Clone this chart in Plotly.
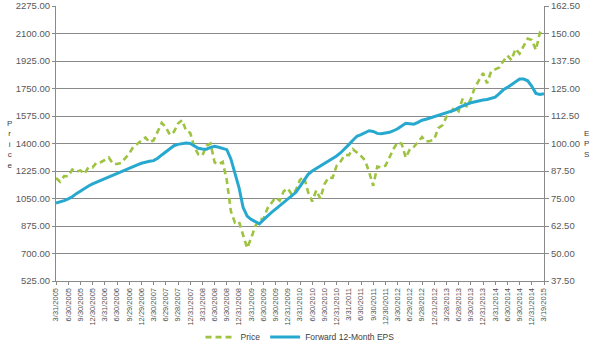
import plotly.graph_objects as go

# Tick labels (quarterly, plus final date)
x_tick_labels = [
    "3/31/2005", "6/30/2005", "9/30/2005", "12/30/2005",
    "3/31/2006", "6/30/2006", "9/29/2006", "12/29/2006",
    "3/30/2007", "6/29/2007", "9/28/2007", "12/31/2007",
    "3/31/2008", "6/30/2008", "9/30/2008", "12/31/2008",
    "3/31/2009", "6/30/2009", "9/30/2009", "12/31/2009",
    "3/31/2010", "6/30/2010", "9/30/2010", "12/31/2010",
    "3/31/2011", "6/30/2011", "9/30/2011", "12/30/2011",
    "3/30/2012", "6/29/2012", "9/28/2012", "12/31/2012",
    "3/28/2013", "6/28/2013", "9/30/2013", "12/31/2013",
    "3/31/2014", "6/30/2014", "9/30/2014", "12/31/2014",
    "3/19/2015",
]

# Monthly price (Mar 2005 .. Feb 2015, then 3/19/2015)
price = [
    1181, 1157, 1192, 1191, 1234, 1220, 1229, 1207, 1249, 1248,
    1280, 1281, 1295, 1311, 1270, 1270, 1277, 1304, 1336, 1378, 1401, 1418,
    1438, 1407, 1421, 1482, 1531, 1503, 1455, 1474, 1527, 1549, 1481, 1468,
    1379, 1331, 1323, 1386, 1400, 1280, 1267, 1283, 1166, 969, 896, 903,
    826, 735, 798, 873, 919, 919, 987, 1021, 1057, 1036, 1096, 1115,
    1074, 1104, 1169, 1187, 1089, 1031, 1102, 1049, 1141, 1183, 1181, 1258,
    1286, 1327, 1326, 1364, 1345, 1321, 1292, 1219, 1131, 1253, 1247, 1258,
    1312, 1366, 1408, 1398, 1310, 1362, 1379, 1407, 1441, 1412, 1416, 1426,
    1498, 1515, 1569, 1598, 1631, 1606, 1686, 1633, 1682, 1757, 1806, 1848,
    1783, 1859, 1872, 1884, 1924, 1960, 1931, 2003, 1972, 2018, 2068, 2059,
    1995, 2105, 2089,
]

# Forward 12-month EPS, same months
eps = [
    72.9, 73.4, 74.0, 74.8, 75.8, 77.2, 78.5, 79.8, 80.7, 81.6,
    82.4, 83.2, 84.0, 84.8, 85.6, 86.5, 87.4, 88.2, 88.9, 89.7, 90.3, 91.0,
    91.6, 91.9, 92.2, 93.3, 94.8, 96.3, 97.8, 99.0, 99.6, 99.9, 100.2, 100.0,
    99.0, 97.8, 97.5, 97.4, 98.2, 98.7, 98.3, 97.8, 97.2, 93.0, 87.0, 80.0,
    71.0, 67.0, 65.5, 64.3, 63.5, 65.3, 67.2, 68.7, 70.2, 71.7, 73.2, 74.8,
    76.3, 77.8, 80.5, 83.5, 86.0, 87.5, 88.6, 89.8, 91.0, 92.0, 93.1, 94.3,
    95.8, 97.5, 99.5, 101.5, 103.3, 104.0, 104.8, 105.8, 105.5, 104.6, 104.4, 104.7,
    105.1, 105.8, 106.7, 108.0, 109.2, 109.0, 108.8, 109.6, 110.6, 111.0, 111.6, 112.1,
    112.6, 113.3, 113.9, 114.3, 115.2, 116.3, 117.2, 117.8, 118.5, 119.0, 119.4, 119.8,
    120.0, 120.5, 121.1, 122.7, 124.4, 125.5, 126.7, 128.0, 129.3, 129.3, 128.5, 126.0,
    122.8, 122.3, 122.6,
]

x = list(range(len(price)))
tick_positions = list(range(0, len(price) - 1, 3)) + [len(price) - 1]

GRID = "#8a8a8a"
TXT = "#595959"
FONT = "Liberation Sans"

fig = go.Figure()
fig.add_trace(go.Scatter(
    x=x, y=price, name="Price", mode="lines",
    line=dict(color="#9dc340", width=2.6, dash="6px,4px"),
    yaxis="y",
))
fig.add_trace(go.Scatter(
    x=x, y=eps, name="Forward 12-Month EPS", mode="lines",
    line=dict(color="#27a9cf", width=3),
    yaxis="y2",
))

fig.update_layout(
    template="none",
    width=597, height=348,
    margin=dict(l=56, r=53, t=6, b=67, autoexpand=False),
    paper_bgcolor="white", plot_bgcolor="white",
    font=dict(family=FONT, size=10, color=TXT),
    showlegend=True,
    legend=dict(
        orientation="h", x=0.5, xanchor="center",
        y=-0.204, yanchor="middle",
        font=dict(size=8.5, color="#404040"), itemwidth=30,
        bgcolor="rgba(0,0,0,0)",
    ),
    xaxis=dict(
        range=[0, len(price) - 1], automargin=False,
        tickmode="array", tickvals=tick_positions, ticktext=x_tick_labels,
        tickangle=-90, tickfont=dict(size=7.5, color="#505050"),
        showgrid=False, zeroline=False,
        showline=True, linecolor=GRID, linewidth=1,
        ticks="outside", ticklen=3, tickcolor=GRID,
    ),
    yaxis=dict(
        range=[525, 2275], tickmode="linear", tick0=525, dtick=175,
        automargin=False,
        tickformat=".2f", tickfont=dict(size=9.5, color=TXT),
        showgrid=True, gridcolor=GRID, gridwidth=1, zeroline=False,
        showline=True, linecolor=GRID, linewidth=1,
        ticks="outside", ticklen=3, tickcolor=GRID,
    ),
    yaxis2=dict(
        range=[37.5, 162.5], tickmode="linear", tick0=37.5, dtick=12.5,
        automargin=False,
        tickformat=".2f", tickfont=dict(size=9.5, color=TXT),
        overlaying="y", side="right", showgrid=False, zeroline=False,
        showline=True, linecolor=GRID, linewidth=1,
        ticks="outside", ticklen=4, tickcolor=GRID,
    ),
    annotations=[
        dict(text="P<br>r<br>i<br>c<br>e", xref="paper", yref="paper",
             x=-0.104, y=0.497, showarrow=False, align="center",
             font=dict(size=8, color="#404040", family=FONT)),
        dict(text="E<br>P<br>S", xref="paper", yref="paper",
             x=1.096, y=0.497, showarrow=False, align="center",
             font=dict(size=8, color="#404040", family=FONT)),
    ],
)

fig.write_html(
    "out.html",
    config={"displayModeBar": False},
    post_script="document.body.style.margin='0';document.body.style.padding='0';",
)
